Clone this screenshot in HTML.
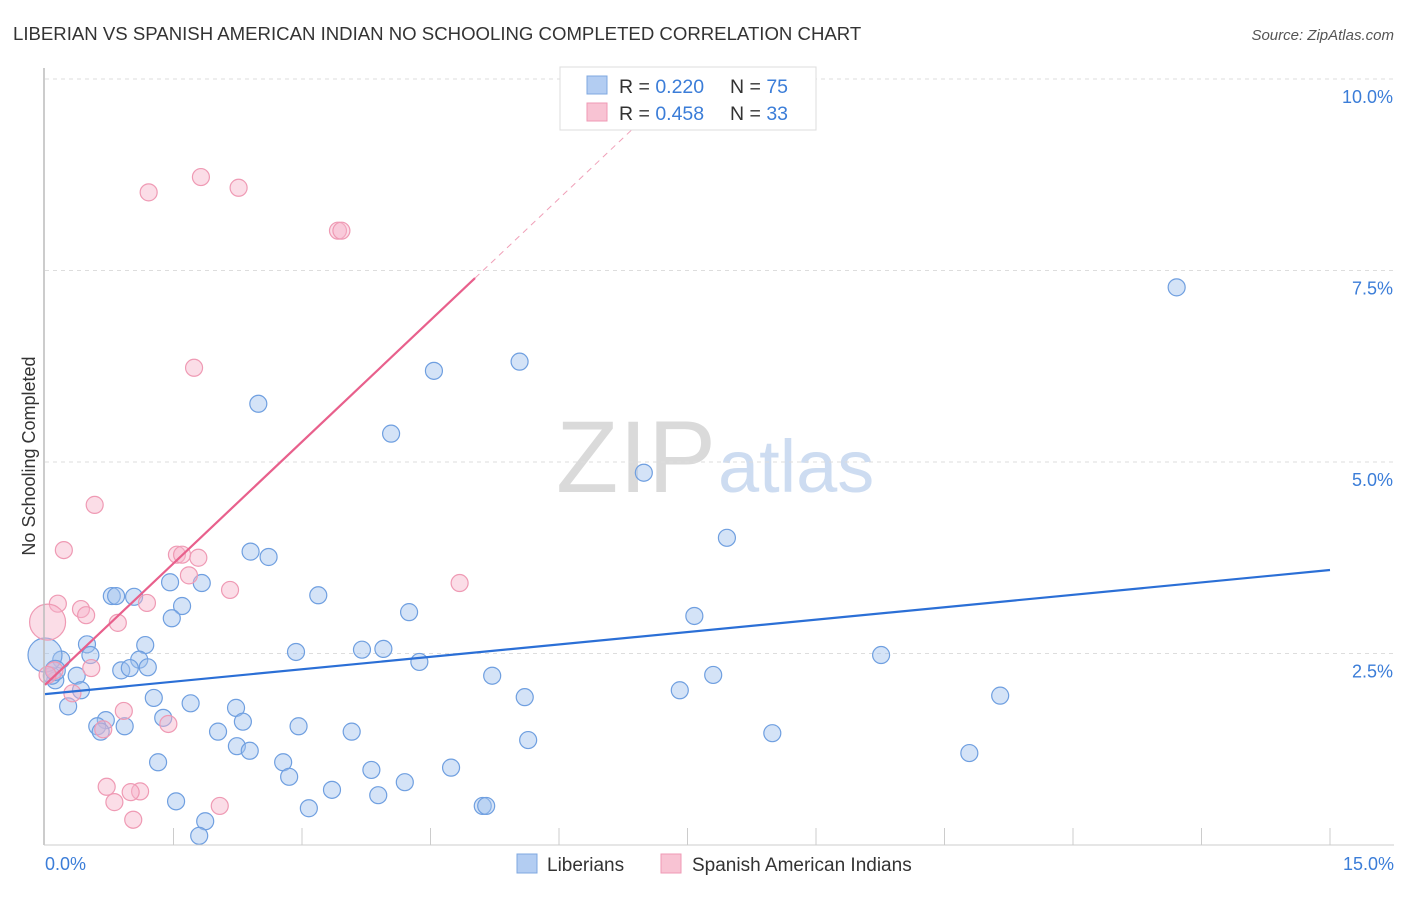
<!DOCTYPE html>
<html><head><meta charset="utf-8"><style>
body{margin:0;background:#fff;font-family:"Liberation Sans",sans-serif;}
svg text{font-family:"Liberation Sans",sans-serif;}
</style></head><body>
<svg id="chart" width="1406" height="892" xmlns="http://www.w3.org/2000/svg">
<text x="13" y="40" font-size="18.6" fill="#333">LIBERIAN VS SPANISH AMERICAN INDIAN NO SCHOOLING COMPLETED CORRELATION CHART</text>
<text x="1394" y="40" font-size="15" fill="#555" font-style="italic" text-anchor="end">Source: ZipAtlas.com</text>
<text x="35" y="456" font-size="18" fill="#333" transform="rotate(-90 35 456)" text-anchor="middle">No Schooling Completed</text>
<text x="716" y="492" font-size="102" fill="#dadada" font-family="Liberation Serif" text-anchor="end" textLength="160">ZIP</text>
<text x="718" y="492" font-size="74" fill="#cddcf1">atlas</text>
<g id="grid"></g><g id="ticks"></g><g id="pts"></g><g id="lines"></g>
<line x1="44" y1="68" x2="44" y2="845" stroke="#bbb" stroke-width="1.5"/>
<line x1="44" y1="845" x2="1394" y2="845" stroke="#ccc"/>
<text x="45" y="870" font-size="18" fill="#3b7dd8">0.0%</text>
<text x="1394" y="870" font-size="18" fill="#3b7dd8" text-anchor="end">15.0%</text>
<g>
<rect x="560" y="67" width="256" height="63" fill="#fff" stroke="#ddd"/>
<rect x="587" y="76" width="20" height="18" fill="#b3cdf2" stroke="#7fa8e0"/>
<rect x="587" y="103" width="20" height="18" fill="#f8c3d3" stroke="#ef9ab4"/>
<text x="619" y="93" font-size="19.5" fill="#333">R = <tspan fill="#3b7dd8">0.220</tspan><tspan x="730">N = </tspan><tspan fill="#3b7dd8">75</tspan></text>
<text x="619" y="120" font-size="19.5" fill="#333">R = <tspan fill="#3b7dd8">0.458</tspan><tspan x="730">N = </tspan><tspan fill="#3b7dd8">33</tspan></text>
</g>
<g>
<rect x="517" y="854" width="20" height="19" fill="#b3cdf2" stroke="#7fa8e0"/>
<text x="547" y="871" font-size="19" fill="#333">Liberians</text>
<rect x="661" y="854" width="20" height="19" fill="#f8c3d3" stroke="#ef9ab4"/>
<text x="692" y="871" font-size="19" fill="#333">Spanish American Indians</text>
</g>
</svg>
<script>
const yTicks=[2.5,5.0,7.5,10.0];
const yTickLabels=["2.5%","5.0%","7.5%","10.0%"];
const xTicks=[1.5,3,4.5,6,7.5,9,10.5,12,13.5,15];
const blueX=[13.21,5.54,4.54,2.49,4.04,6.99,7.96,2.40,2.61,1.46,1.83,0.78,0.83,1.04,3.19,1.60,4.25,1.48,7.58,0.49,1.17,0.53,2.93,3.70,3.95,0.19,1.10,4.37,9.76,1.20,0.89,0.99,0.37,0.12,0.08,5.22,7.80,0.42,7.41,11.15,1.27,5.60,1.70,0.27,2.23,0.71,1.38,0.61,0.93,2.31,2.96,0.65,2.02,3.58,8.49,5.64,2.24,2.39,10.79,1.32,2.78,2.85,4.74,3.81,4.20,3.89,3.35,1.53,3.08,5.11,5.15,1.87,1.80,0.0,0.12];
const blueY=[7.28,6.31,6.19,5.76,5.37,4.86,4.01,3.83,3.76,3.43,3.42,3.25,3.25,3.24,3.26,3.12,3.04,2.96,2.99,2.62,2.61,2.48,2.52,2.55,2.56,2.42,2.42,2.39,2.48,2.32,2.28,2.31,2.21,2.15,2.21,2.21,2.22,2.02,2.02,1.95,1.92,1.93,1.85,1.81,1.79,1.63,1.66,1.55,1.55,1.61,1.55,1.48,1.48,1.48,1.46,1.37,1.29,1.23,1.20,1.08,1.08,0.89,1.01,0.98,0.82,0.65,0.72,0.57,0.48,0.51,0.51,0.31,0.12,2.48,2.28];
const blueSize=[8.5,8.5,8.5,8.5,8.5,8.5,8.5,8.5,8.5,8.5,8.5,8.5,8.5,8.5,8.5,8.5,8.5,8.5,8.5,8.5,8.5,8.5,8.5,8.5,8.5,8.5,8.5,8.5,8.5,8.5,8.5,8.5,8.5,8.5,8.5,8.5,8.5,8.5,8.5,8.5,8.5,8.5,8.5,8.5,8.5,8.5,8.5,8.5,8.5,8.5,8.5,8.5,8.5,8.5,8.5,8.5,8.5,8.5,8.5,8.5,8.5,8.5,8.5,8.5,8.5,8.5,8.5,8.5,8.5,8.5,8.5,8.5,8.5,17,10];
const pinkX=[1.21,1.82,2.26,3.42,3.46,1.74,0.58,0.22,1.54,1.60,1.79,1.68,2.16,4.84,0.15,1.19,0.42,0.48,0.85,0.03,0.54,0.11,0.32,0.92,1.44,0.68,0.72,1.11,1.00,0.81,2.04,1.03,0.03];
const pinkY=[8.52,8.72,8.58,8.02,8.02,6.23,4.44,3.85,3.79,3.79,3.75,3.52,3.33,3.42,3.15,3.16,3.08,3.00,2.90,2.91,2.31,2.28,1.98,1.75,1.58,1.51,0.76,0.70,0.69,0.56,0.51,0.33,2.22];
const pinkSize=[8.5,8.5,8.5,8.5,8.5,8.5,8.5,8.5,8.5,8.5,8.5,8.5,8.5,8.5,8.5,8.5,8.5,8.5,8.5,18,8.5,8.5,8.5,8.5,8.5,8.5,8.5,8.5,8.5,8.5,8.5,8.5,8.5];
const blueTrend=[1.97,3.59];
const pinkTrend=[2.09,1.058];
const NS="http://www.w3.org/2000/svg";
const X=v=>45+v/15*1285, Y=v=>845-v/2.5*191.5;
function mk(tag,attrs,parent){const e=document.createElementNS(NS,tag);for(const k in attrs)e.setAttribute(k,attrs[k]);document.getElementById(parent).appendChild(e);return e;}
yTicks.forEach((t,i)=>{
 const g=mk('line',{x1:45,x2:1394,y1:Y(t),y2:Y(t),stroke:'#ddd','stroke-dasharray':'4,4'},'grid');
 
 
 const l=mk('text',{x:1393,y:Y(t)+24,'font-size':18,fill:'#3b7dd8','text-anchor':'end'},'grid');
 l.textContent=yTickLabels[i];
 
 
});
xTicks.forEach(t=>{
 const l=mk('line',{x1:X(t),x2:X(t),y1:828,y2:845,stroke:'#ccc'},'ticks');
 
 
});
blueX.forEach((v,i)=>{
 const c=mk('circle',{cx:X(v),cy:Y(blueY[i]),r:blueSize[i],fill:'rgba(160,192,238,0.45)',stroke:'#6f9fe0','stroke-width':1.2},'pts');
 
 
});
pinkX.forEach((v,i)=>{
 const c=mk('circle',{cx:X(v),cy:Y(pinkY[i]),r:pinkSize[i],fill:'rgba(246,180,202,0.45)',stroke:'#ef9ab4','stroke-width':1.2},'pts');
 
 
});
const bl=mk('line',{x1:X(0),y1:Y(blueTrend[0]),x2:X(15),y2:Y(blueTrend[1]),stroke:'#2b6fd6','stroke-width':2.2},'lines');


const pEnd=5.02, pDash=7.3;
const pl=mk('line',{x1:X(0),y1:Y(pinkTrend[0]),x2:X(pEnd),y2:Y(pinkTrend[0]+pinkTrend[1]*pEnd),stroke:'#e8608c','stroke-width':2.2},'lines');


const pd=mk('line',{x1:X(pEnd),y1:Y(pinkTrend[0]+pinkTrend[1]*pEnd),x2:X(pDash),y2:Y(pinkTrend[0]+pinkTrend[1]*pDash),stroke:'#f0a0b8','stroke-width':1,'stroke-dasharray':'6,5'},'lines');


</script>
</body></html>
